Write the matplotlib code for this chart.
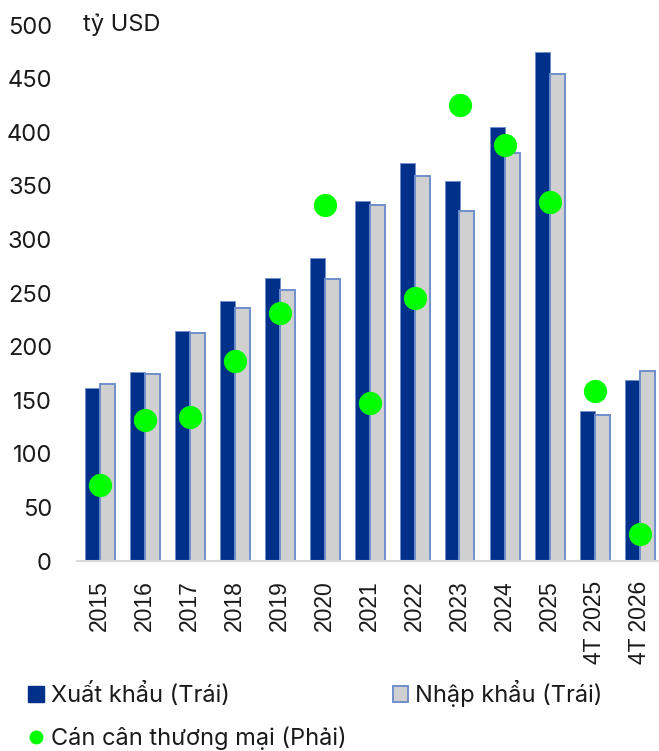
import numpy as np
import matplotlib
matplotlib.use("Agg")
import matplotlib.pyplot as plt
from matplotlib.lines import Line2D
from matplotlib.patches import Patch

# Vietnam trade: exports / imports (bn USD, left) and trade balance (bn USD, right)
categories = ["2015", "2016", "2017", "2018", "2019", "2020", "2021",
              "2022", "2023", "2024", "2025", "4T 2025", "4T 2026"]
exports = [161.7, 176.0, 214.3, 242.8, 263.7, 282.4, 335.5,
           371.0, 354.2, 405.0, 474.5, 140.2, 168.8]
imports = [165.4, 174.4, 213.0, 236.3, 252.8, 262.8, 332.4,
           359.4, 326.2, 380.9, 454.6, 136.2, 177.0]
balance = [-3.6, 1.8, 2.1, 6.8, 10.8, 19.9, 3.3,
           12.1, 28.3, 24.9, 20.1, 4.3, -7.7]

EXPORT_COLOR = "#00308A"
IMPORT_FACE = "#D0D0D0"
IMPORT_EDGE = "#6F8FCC"
BALANCE_COLOR = "#00FF00"
TEXT_COLOR = "#1A1A1A"

W, H = 659, 751
fig = plt.figure(figsize=(W / 100, H / 100), dpi=100)
ax = fig.add_axes([77 / W, (H - 561) / H, 585 / W, 536 / H])

x = np.arange(len(categories))
bw = 1 / 3
ax.bar(x - bw / 2, exports, width=bw, color=EXPORT_COLOR,
       edgecolor=IMPORT_EDGE, linewidth=0.6, zorder=2)
ax.bar(x + bw / 2, imports, width=bw, color=IMPORT_FACE,
       edgecolor=IMPORT_EDGE, linewidth=1.4, zorder=2)

ax.set_xlim(-0.5, len(categories) - 0.5)
ax.set_ylim(0, 500)
ax.set_yticks(np.arange(0, 501, 50))
ax.set_xticks(x)
ax.set_xticklabels(categories, rotation=90, fontsize=16.5,
                   family="Liberation Sans", color=TEXT_COLOR)
for lbl in ax.get_yticklabels():
    lbl.set_fontfamily("Inter")
    lbl.set_fontsize(17)
    lbl.set_color(TEXT_COLOR)
ax.tick_params(axis="x", length=0, pad=14)
ax.tick_params(axis="y", length=0, pad=18)
for side in ["top", "right", "left"]:
    ax.spines[side].set_visible(False)
ax.spines["bottom"].set_color("#D9D9D9")
ax.spines["bottom"].set_linewidth(1.5)

ax.text(83 / W, 1 - 25 / H, "tỷ USD", transform=fig.transFigure,
        ha="left", va="center", fontsize=17, family="Inter", color=TEXT_COLOR)

# right axis carries the balance but is not drawn
ax2 = ax.twinx()
ax2.set_ylim(-10, 35)
ax2.scatter(x, balance, s=280, color=BALANCE_COLOR, zorder=3, linewidths=0)
ax2.axis("off")

handles = [
    Patch(facecolor=EXPORT_COLOR, edgecolor=EXPORT_COLOR, label="Xuất khẩu (Trái)"),
    Line2D([], [], marker="o", linestyle="none", markersize=9,
           markerfacecolor=BALANCE_COLOR, markeredgecolor=BALANCE_COLOR,
           label="Cán cân thương mại (Phải)"),
    Patch(facecolor=IMPORT_FACE, edgecolor=IMPORT_EDGE, linewidth=1.4,
          label="Nhập khẩu (Trái)"),
]
fig.legend(handles=handles, ncol=2, loc="upper left",
           bbox_to_anchor=(19 / W, 1 - 671 / H), frameon=False,
           prop={"family": "Inter", "size": 17}, handlelength=0.65,
           handleheight=0.65, handletextpad=0.3, columnspacing=1.95,
           labelspacing=0.8, labelcolor=TEXT_COLOR, borderaxespad=0)

fig.savefig("out.png", dpi=100)
